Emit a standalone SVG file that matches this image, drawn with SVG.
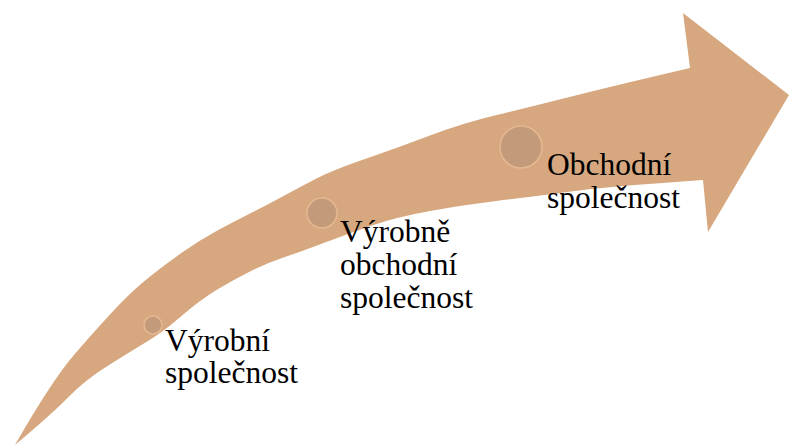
<svg xmlns="http://www.w3.org/2000/svg" width="789" height="446" viewBox="0 0 789 446">
<style>
.arrow{fill:#D7A87F;}
.dot{fill:#C49B7A;stroke:#E6B891;stroke-width:1.5;}
</style>
<rect width="789" height="446" fill="#fff"/>
<g id="connectors">
<path id="arrow" class="arrow" d="M15,445 Q52,380 76,352.5 Q100,325 116.5,307.5 Q133,290 150,276.5 Q167,263 183.5,251.5 Q200,240 216.5,231 Q233,222 250,213.5 Q267,205 283.5,196 Q300,187 316.5,178.5 Q333,170 365,159 Q397,148 430,135.5 Q463,123 496.5,115 Q530,107 563.5,98.5 Q597,90 628.5,82.5 Q660,75 690,68 L683,13 L789,95 L708,232 L703,180 Q660,183 628.5,185.5 Q597,188 563.5,192.5 Q530,197 496.5,201 Q463,205 430,211 Q397,217 373.5,225 Q350,233 325,242.5 Q300,252 283.5,257.5 Q267,263 250,271.5 Q233,280 216.5,290 Q200,300 181.5,316 Q163,332 148,341 Q133,350 109,365 Q85,380 69,396.5 Q53,413 15,445 Z"/>
</g>
<g font-family="Liberation Serif" font-size="31.5" fill="#000">
<g id="node-vyrobni">
<circle class="dot" cx="153" cy="325" r="9"/>
<text x="165" y="351" font-family="Liberation Serif">Výrobní</text>
<text x="165" y="383" font-family="Liberation Serif">společnost</text>
</g>
<g id="node-vyrobne-obchodni">
<circle class="dot" cx="322" cy="213" r="15"/>
<text x="340" y="242" font-family="Liberation Serif">Výrobně</text>
<text x="340" y="275" font-family="Liberation Serif">obchodní</text>
<text x="340" y="308" font-family="Liberation Serif">společnost</text>
</g>
<g id="node-obchodni">
<circle class="dot" cx="521" cy="147" r="21"/>
<text x="547" y="175" font-family="Liberation Serif">Obchodní</text>
<text x="547" y="208" font-family="Liberation Serif">společnost</text>
</g>
</g>
</svg>
